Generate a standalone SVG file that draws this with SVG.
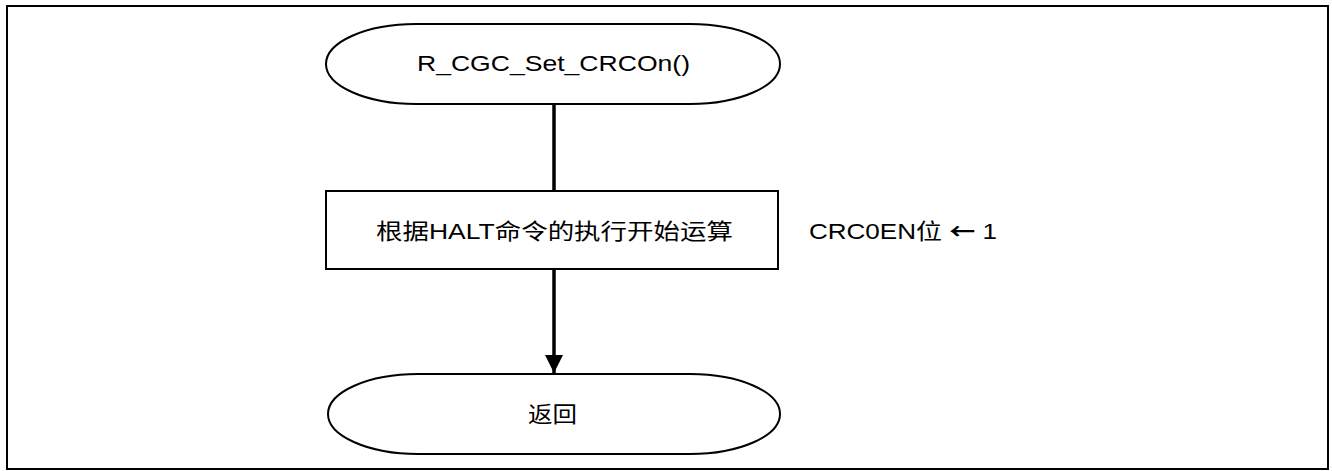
<svg xmlns="http://www.w3.org/2000/svg" width="1332" height="471" viewBox="0 0 1332 471">
<style>
.shape{fill:#fff;stroke:#000;stroke-width:2}
.t{font-family:"Liberation Sans","Noto Sans CJK SC",sans-serif;font-size:22px;fill:#000}
.arr{font-family:"Noto Sans CJK SC","DejaVu Sans",sans-serif;font-weight:bold}
.conn{stroke:#000;stroke-width:3.5;fill:none}
</style>
<defs>
<marker id="ah" markerUnits="userSpaceOnUse" markerWidth="20" markerHeight="18" refX="18" refY="9" orient="auto">
<path d="M0,0 L18,9 L0,18 Z" fill="#000"/>
</marker>
</defs>
<rect x="7" y="6" width="1321" height="463" fill="#fff" stroke="#000" stroke-width="2"/>
<g id="connectors">
<line class="conn" x1="554" y1="104" x2="554" y2="191"/>
<line class="conn" x1="554" y1="269" x2="554" y2="373" marker-end="url(#ah)"/>
</g>
<g id="start">
<rect class="shape" x="326" y="24" width="454" height="80" rx="90" ry="40"/>
<text class="t" x="417" y="71" textLength="273" lengthAdjust="spacingAndGlyphs">R_CGC_Set_CRCOn()</text>
</g>
<g id="process">
<rect class="shape" x="326" y="191" width="452" height="78"/>
<text class="t" x="376" y="239" textLength="357" lengthAdjust="spacingAndGlyphs">根据HALT命令的执行开始运算</text>
</g>
<g id="note">
<text class="t" x="809" y="239" textLength="188" lengthAdjust="spacingAndGlyphs">CRC0EN位 <tspan class="arr">←</tspan> 1</text>
</g>
<g id="end">
<rect class="shape" x="328" y="374" width="452" height="80" rx="90" ry="40"/>
<text class="t" x="528" y="422" textLength="49" lengthAdjust="spacingAndGlyphs">返回</text>
</g>
</svg>
